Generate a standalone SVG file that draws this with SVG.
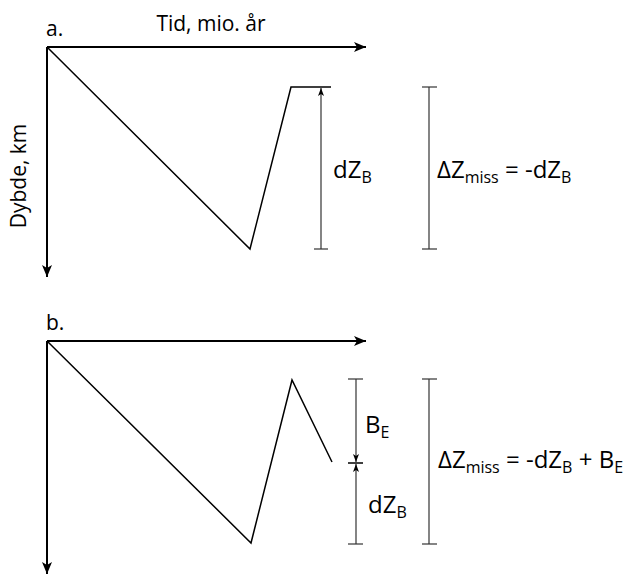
<svg xmlns="http://www.w3.org/2000/svg" width="627" height="576" viewBox="0 0 627 576">
<style>
text{font-family:"Open Sans","DejaVu Sans",sans-serif;fill:#000;}
.lbl{font-size:21px;}
.big{font-size:24px;}
.sub{font-size:16px;}
.axis{stroke:#000;stroke-width:2;fill:none;}
.curve{stroke:#000;stroke-width:1.5;fill:none;}
.dim{stroke:#333;stroke-width:1.2;fill:none;}
</style>
<defs>
<marker id="ax" viewBox="0 0 12 10" refX="12" refY="5" markerWidth="12" markerHeight="10" markerUnits="userSpaceOnUse" orient="auto">
<path d="M0,0 L12,5 L0,10 L3,5 Z" fill="#000"/>
</marker>
<marker id="dm" viewBox="0 0 8 6" refX="8" refY="3" markerWidth="8" markerHeight="6" markerUnits="userSpaceOnUse" orient="auto">
<path d="M0,0 L8,3 L0,6 L2,3 Z" fill="#000"/>
</marker>
</defs>
<g id="panel-a">
<text class="lbl" x="46" y="36">a.</text>
<text class="lbl" x="211" y="31" text-anchor="middle" font-size="22">Tid, mio. år</text>
<text class="lbl" transform="translate(26,176) rotate(-90)" text-anchor="middle">Dybde, km</text>
<line class="axis" x1="47" y1="47" x2="366" y2="47" marker-end="url(#ax)"/>
<line class="axis" x1="47" y1="47" x2="47" y2="277" marker-end="url(#ax)"/>
<polyline class="curve" points="47,47 250,249 291,87 331,87"/>
</g>
<g id="dim-a-dZB">
<line class="dim" x1="321" y1="249" x2="321" y2="88" marker-end="url(#dm)"/>
<line class="dim" x1="314" y1="249" x2="328" y2="249"/>
<text class="big" x="333" y="178">dZ<tspan class="sub" dy="5">B</tspan></text>
</g>
<g id="dim-a-miss">
<line class="dim" x1="429" y1="87" x2="429" y2="249"/>
<line class="dim" x1="422" y1="87" x2="437" y2="87"/>
<line class="dim" x1="422" y1="249" x2="437" y2="249"/>
<text class="big" x="437" y="178">ΔZ<tspan class="sub" dy="5">miss</tspan><tspan dy="-5"> = -dZ</tspan><tspan class="sub" dy="5">B</tspan></text>
</g>
<g id="panel-b">
<text class="lbl" x="46" y="330">b.</text>
<line class="axis" x1="47" y1="341" x2="366" y2="341" marker-end="url(#ax)"/>
<line class="axis" x1="47" y1="341" x2="47" y2="574" marker-end="url(#ax)"/>
<polyline class="curve" points="47,341 251,543 292,380 332,462"/>
</g>
<g id="dim-b-BE">
<line class="dim" x1="348" y1="379" x2="363" y2="379"/>
<line class="dim" x1="356" y1="379" x2="356" y2="462" marker-end="url(#dm)"/>
<line class="dim" x1="348" y1="463" x2="363" y2="463" style="stroke:#000;stroke-width:1.5"/>
<text class="big" x="365" y="433">B<tspan class="sub" dy="5">E</tspan></text>
</g>
<g id="dim-b-dZB">
<line class="dim" x1="356" y1="544" x2="356" y2="464" marker-end="url(#dm)"/>
<line class="dim" x1="348" y1="544" x2="363" y2="544"/>
<text class="big" x="368" y="513">dZ<tspan class="sub" dy="5">B</tspan></text>
</g>
<g id="dim-b-miss">
<line class="dim" x1="429" y1="379" x2="429" y2="544"/>
<line class="dim" x1="422" y1="379" x2="437" y2="379"/>
<line class="dim" x1="422" y1="544" x2="437" y2="544"/>
<text class="big" x="438" y="468">ΔZ<tspan class="sub" dy="5">miss</tspan><tspan dy="-5"> = -dZ</tspan><tspan class="sub" dy="5">B</tspan><tspan dy="-5"> + B</tspan><tspan class="sub" dy="5">E</tspan></text>
</g>
</svg>
